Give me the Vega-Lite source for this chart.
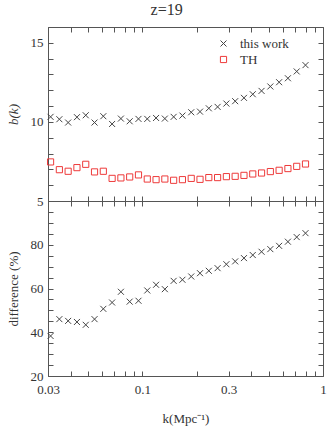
{
  "$schema": "https://vega.github.io/schema/vega-lite/v6.json",
  "padding": {"left": 6, "top": 2, "right": 5, "bottom": 3},
  "bounds": "flush",
  "spacing": 0,
  "title": {"text": "z=19", "font": "Liberation Serif", "fontSize": 16, "fontWeight": "normal", "color": "#333", "offset": 8, "anchor": "middle"},
  "config": {
    "font": "Liberation Serif",
    "view": {"stroke": "#555", "strokeWidth": 1},
    "axis": {
      "domain": false, "grid": false, "tickColor": "#555", "tickSize": -5, "tickWidth": 1,
      "labelFont": "Liberation Serif", "labelFontSize": 13, "labelColor": "#333",
      "titleFont": "Liberation Serif", "titleFontSize": 13, "titleFontWeight": "normal", "titleColor": "#333"
    },
    "legend": {"labelFont": "Liberation Serif", "labelFontSize": 13, "labelColor": "#333"}
  },
  "datasets": {
    "bias": [
      {"k": 0.0310, "b": 10.32, "series": "this work"},
      {"k": 0.03468, "b": 10.17, "series": "this work"},
      {"k": 0.03879, "b": 9.96, "series": "this work"},
      {"k": 0.04339, "b": 10.30, "series": "this work"},
      {"k": 0.04854, "b": 10.42, "series": "this work"},
      {"k": 0.05430, "b": 9.96, "series": "this work"},
      {"k": 0.06074, "b": 10.36, "series": "this work"},
      {"k": 0.06794, "b": 9.87, "series": "this work"},
      {"k": 0.07600, "b": 10.21, "series": "this work"},
      {"k": 0.08501, "b": 10.04, "series": "this work"},
      {"k": 0.09510, "b": 10.19, "series": "this work"},
      {"k": 0.10638, "b": 10.19, "series": "this work"},
      {"k": 0.11900, "b": 10.25, "series": "this work"},
      {"k": 0.13311, "b": 10.21, "series": "this work"},
      {"k": 0.14890, "b": 10.32, "series": "this work"},
      {"k": 0.16656, "b": 10.40, "series": "this work"},
      {"k": 0.18632, "b": 10.61, "series": "this work"},
      {"k": 0.20842, "b": 10.65, "series": "this work"},
      {"k": 0.23314, "b": 10.86, "series": "this work"},
      {"k": 0.26079, "b": 10.95, "series": "this work"},
      {"k": 0.29172, "b": 11.16, "series": "this work"},
      {"k": 0.32632, "b": 11.31, "series": "this work"},
      {"k": 0.36503, "b": 11.52, "series": "this work"},
      {"k": 0.40832, "b": 11.75, "series": "this work"},
      {"k": 0.45675, "b": 11.96, "series": "this work"},
      {"k": 0.51093, "b": 12.24, "series": "this work"},
      {"k": 0.57153, "b": 12.51, "series": "this work"},
      {"k": 0.63932, "b": 12.76, "series": "this work"},
      {"k": 0.71515, "b": 13.19, "series": "this work"},
      {"k": 0.79998, "b": 13.59, "series": "this work"},
      {"k": 0.0310, "b": 7.47, "series": "TH"},
      {"k": 0.03468, "b": 6.98, "series": "TH"},
      {"k": 0.03879, "b": 6.88, "series": "TH"},
      {"k": 0.04339, "b": 7.11, "series": "TH"},
      {"k": 0.04854, "b": 7.32, "series": "TH"},
      {"k": 0.05430, "b": 6.84, "series": "TH"},
      {"k": 0.06074, "b": 6.88, "series": "TH"},
      {"k": 0.06794, "b": 6.43, "series": "TH"},
      {"k": 0.07600, "b": 6.46, "series": "TH"},
      {"k": 0.08501, "b": 6.52, "series": "TH"},
      {"k": 0.09510, "b": 6.65, "series": "TH"},
      {"k": 0.10638, "b": 6.39, "series": "TH"},
      {"k": 0.11900, "b": 6.35, "series": "TH"},
      {"k": 0.13311, "b": 6.39, "series": "TH"},
      {"k": 0.14890, "b": 6.31, "series": "TH"},
      {"k": 0.16656, "b": 6.35, "series": "TH"},
      {"k": 0.18632, "b": 6.43, "series": "TH"},
      {"k": 0.20842, "b": 6.37, "series": "TH"},
      {"k": 0.23314, "b": 6.48, "series": "TH"},
      {"k": 0.26079, "b": 6.48, "series": "TH"},
      {"k": 0.29172, "b": 6.54, "series": "TH"},
      {"k": 0.32632, "b": 6.56, "series": "TH"},
      {"k": 0.36503, "b": 6.62, "series": "TH"},
      {"k": 0.40832, "b": 6.71, "series": "TH"},
      {"k": 0.45675, "b": 6.77, "series": "TH"},
      {"k": 0.51093, "b": 6.86, "series": "TH"},
      {"k": 0.57153, "b": 6.94, "series": "TH"},
      {"k": 0.63932, "b": 7.05, "series": "TH"},
      {"k": 0.71515, "b": 7.19, "series": "TH"},
      {"k": 0.79998, "b": 7.34, "series": "TH"}
    ],
    "diff": [
      {"k": 0.0310, "d": 38.3},
      {"k": 0.03468, "d": 46.0},
      {"k": 0.03879, "d": 45.2},
      {"k": 0.04339, "d": 44.7},
      {"k": 0.04854, "d": 43.4},
      {"k": 0.05430, "d": 46.0},
      {"k": 0.06074, "d": 50.7},
      {"k": 0.06794, "d": 53.6},
      {"k": 0.07600, "d": 58.5},
      {"k": 0.08501, "d": 54.0},
      {"k": 0.09510, "d": 54.4},
      {"k": 0.10638, "d": 59.1},
      {"k": 0.11900, "d": 61.7},
      {"k": 0.13311, "d": 59.7},
      {"k": 0.14890, "d": 63.5},
      {"k": 0.16656, "d": 64.0},
      {"k": 0.18632, "d": 65.5},
      {"k": 0.20842, "d": 67.0},
      {"k": 0.23314, "d": 68.1},
      {"k": 0.26079, "d": 69.3},
      {"k": 0.29172, "d": 71.1},
      {"k": 0.32632, "d": 72.4},
      {"k": 0.36503, "d": 73.9},
      {"k": 0.40832, "d": 75.3},
      {"k": 0.45675, "d": 76.8},
      {"k": 0.51093, "d": 78.0},
      {"k": 0.57153, "d": 79.5},
      {"k": 0.63932, "d": 81.4},
      {"k": 0.71515, "d": 83.5},
      {"k": 0.79998, "d": 85.3}
    ]
  },
  "vconcat": [
    {
      "width": 275,
      "height": 174,
      "data": {"name": "bias"},
      "resolve": {"axis": {"x": "independent", "y": "independent"}},
      "layer": [
        {
          "mark": {"type": "point", "filled": false, "strokeWidth": 1, "opacity": 1},
          "encoding": {
            "x": {"field": "k", "type": "quantitative",
              "scale": {"type": "log", "domain": [0.03, 1]},
              "axis": {"values": [0.03, 0.04, 0.05, 0.06, 0.07, 0.08, 0.09, 0.1, 0.2, 0.3, 0.4, 0.5, 0.6, 0.7, 0.8, 0.9, 1], "labels": false, "title": null}},
            "y": {"field": "b", "type": "quantitative",
              "scale": {"domain": [5, 16], "nice": false, "zero": false},
              "axis": {"values": [5, 6, 7, 8, 9, 10, 11, 12, 13, 14, 15, 16], "labelExpr": "datum.value % 5 == 0 ? datum.label : ''", "labelPadding": 10, "title": "b(k)", "titleFontStyle": "italic", "titlePadding": 10}},
            "color": {"field": "series", "type": "nominal",
              "scale": {"domain": ["this work", "TH"], "range": ["#444444", "#ee3b3b"]},
              "legend": {"title": null, "orient": "none", "legendX": 169, "legendY": 10, "symbolSize": 36, "symbolStrokeWidth": 1, "rowPadding": 2, "labelOffset": 10}},
            "shape": {"field": "series", "type": "nominal",
              "scale": {"domain": ["this work", "TH"], "range": ["M-1,-1L1,1M1,-1L-1,1", "square"]}, "legend": null},
            "size": {"field": "series", "type": "nominal",
              "scale": {"domain": ["this work", "TH"], "range": [36, 38]}, "legend": null}
          }
        },
        {
          "mark": {"type": "point", "opacity": 0},
          "encoding": {
            "x": {"field": "k", "type": "quantitative",
              "scale": {"type": "log", "domain": [0.03, 1]},
              "axis": {"orient": "top", "values": [0.03, 0.04, 0.05, 0.06, 0.07, 0.08, 0.09, 0.1, 0.2, 0.3, 0.4, 0.5, 0.6, 0.7, 0.8, 0.9, 1], "labels": false, "title": null}},
            "y": {"field": "b", "type": "quantitative",
              "scale": {"domain": [5, 16], "nice": false, "zero": false},
              "axis": {"orient": "right", "values": [5, 6, 7, 8, 9, 10, 11, 12, 13, 14, 15, 16], "labels": false, "title": null}}
          }
        }
      ]
    },
    {
      "width": 275,
      "height": 175,
      "data": {"name": "diff"},
      "resolve": {"axis": {"x": "independent", "y": "independent"}},
      "layer": [
        {
          "mark": {"type": "point", "filled": false, "strokeWidth": 1, "color": "#444444", "shape": "M-1,-1L1,1M1,-1L-1,1", "size": 36, "opacity": 1},
          "encoding": {
            "x": {"field": "k", "type": "quantitative",
              "scale": {"type": "log", "domain": [0.03, 1]},
              "axis": {"values": [0.03, 0.04, 0.05, 0.06, 0.07, 0.08, 0.09, 0.1, 0.2, 0.3, 0.4, 0.5, 0.6, 0.7, 0.8, 0.9, 1], "format": "~g", "labelFlush": false, "labelExpr": "indexof([0.03, 0.1, 0.3, 1], datum.value) >= 0 ? datum.label : ''", "labelPadding": 12, "title": "k(Mpc⁻¹)", "titlePadding": 16}},
            "y": {"field": "d", "type": "quantitative",
              "scale": {"domain": [20, 100], "nice": false, "zero": false},
              "axis": {"values": [20, 25, 30, 35, 40, 45, 50, 55, 60, 65, 70, 75, 80, 85, 90, 95, 100], "labelExpr": "datum.value % 20 == 0 && datum.value < 100 ? datum.label : ''", "labelPadding": 10, "title": "difference (%)", "titlePadding": 10}}
          }
        },
        {
          "mark": {"type": "point", "opacity": 0},
          "encoding": {
            "x": {"field": "k", "type": "quantitative",
              "scale": {"type": "log", "domain": [0.03, 1]},
              "axis": {"orient": "top", "values": [0.03, 0.04, 0.05, 0.06, 0.07, 0.08, 0.09, 0.1, 0.2, 0.3, 0.4, 0.5, 0.6, 0.7, 0.8, 0.9, 1], "labels": false, "title": null}},
            "y": {"field": "d", "type": "quantitative",
              "scale": {"domain": [20, 100], "nice": false, "zero": false},
              "axis": {"orient": "right", "values": [20, 25, 30, 35, 40, 45, 50, 55, 60, 65, 70, 75, 80, 85, 90, 95, 100], "labels": false, "title": null}}
          }
        }
      ]
    }
  ]
}
